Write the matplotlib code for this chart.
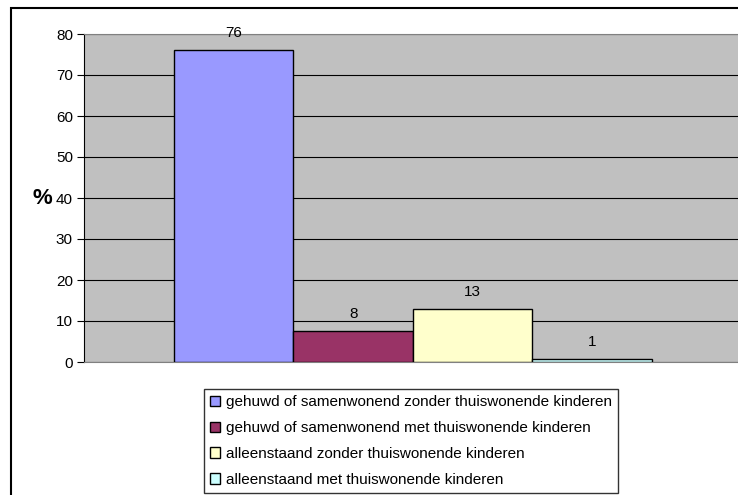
import matplotlib
matplotlib.use("Agg")
import matplotlib.pyplot as plt
from matplotlib.patches import Rectangle

plt.rcParams['font.family'] = ['Liberation Sans', 'DejaVu Sans']

categories = ["gehuwd of samenwonend zonder thuiswonende kinderen",
              "gehuwd of samenwonend met thuiswonende kinderen",
              "alleenstaand zonder thuiswonende kinderen",
              "alleenstaand met thuiswonende kinderen"]
values = [76.1, 7.6, 13.0, 0.8]
colors = ["#9999FF", "#993366", "#FFFFCC", "#CCFFFF"]
yticks = [0, 10, 20, 30, 40, 50, 60, 70, 80]

W, H = 738, 495
fig = plt.figure(figsize=(W/100, H/100), dpi=100)
ax = fig.add_axes([84/W, 1-362/H, (W-84)/W, (362-34)/H])
ax.set_facecolor("#C0C0C0")

for i, (c, v, col) in enumerate(zip(categories, values, colors)):
    ax.bar(i, v, width=1.0, color=col, edgecolor="black", linewidth=1.0, label=c, zorder=3)
    ax.annotate("%.0f" % v, (i, v), xytext=(0, 7), textcoords="offset points",
                ha="center", va="bottom", fontsize=11, zorder=4)

ax.set_xlim(-1.253, 4.22)
ax.set_ylim(0, 80)
ax.set_yticks(yticks)
ax.set_xticks([])
ax.yaxis.grid(True, color="black", linewidth=0.8, zorder=1)
ax.set_axisbelow(True)
ax.tick_params(axis="y", direction="out", length=5, width=0.8, labelsize=11, pad=3)
ax.spines["top"].set_color("#808080")
ax.spines["right"].set_visible(False)
ax.spines["bottom"].set_color("#808080")
ax.spines["left"].set_color("black")

fig.text(42/W, 1-199/H, "%", fontsize=16, fontweight="bold", ha="center", va="center")

leg = fig.legend(loc="upper left", bbox_to_anchor=(204/W, 1-389/H),
                 bbox_transform=fig.transFigure, fontsize=11, frameon=True,
                 fancybox=False, edgecolor="black", handlelength=0.65,
                 handleheight=0.65, handletextpad=0.4, labelspacing=0.78,
                 borderpad=0.4, borderaxespad=0)
leg.get_frame().set_linewidth(1.0)

fig.patches.append(Rectangle((11/W, -0.1), 1.2, 1-8/H+0.1, transform=fig.transFigure,
                             fill=False, edgecolor="black", linewidth=1.5))

fig.savefig("out.png", dpi=100)
